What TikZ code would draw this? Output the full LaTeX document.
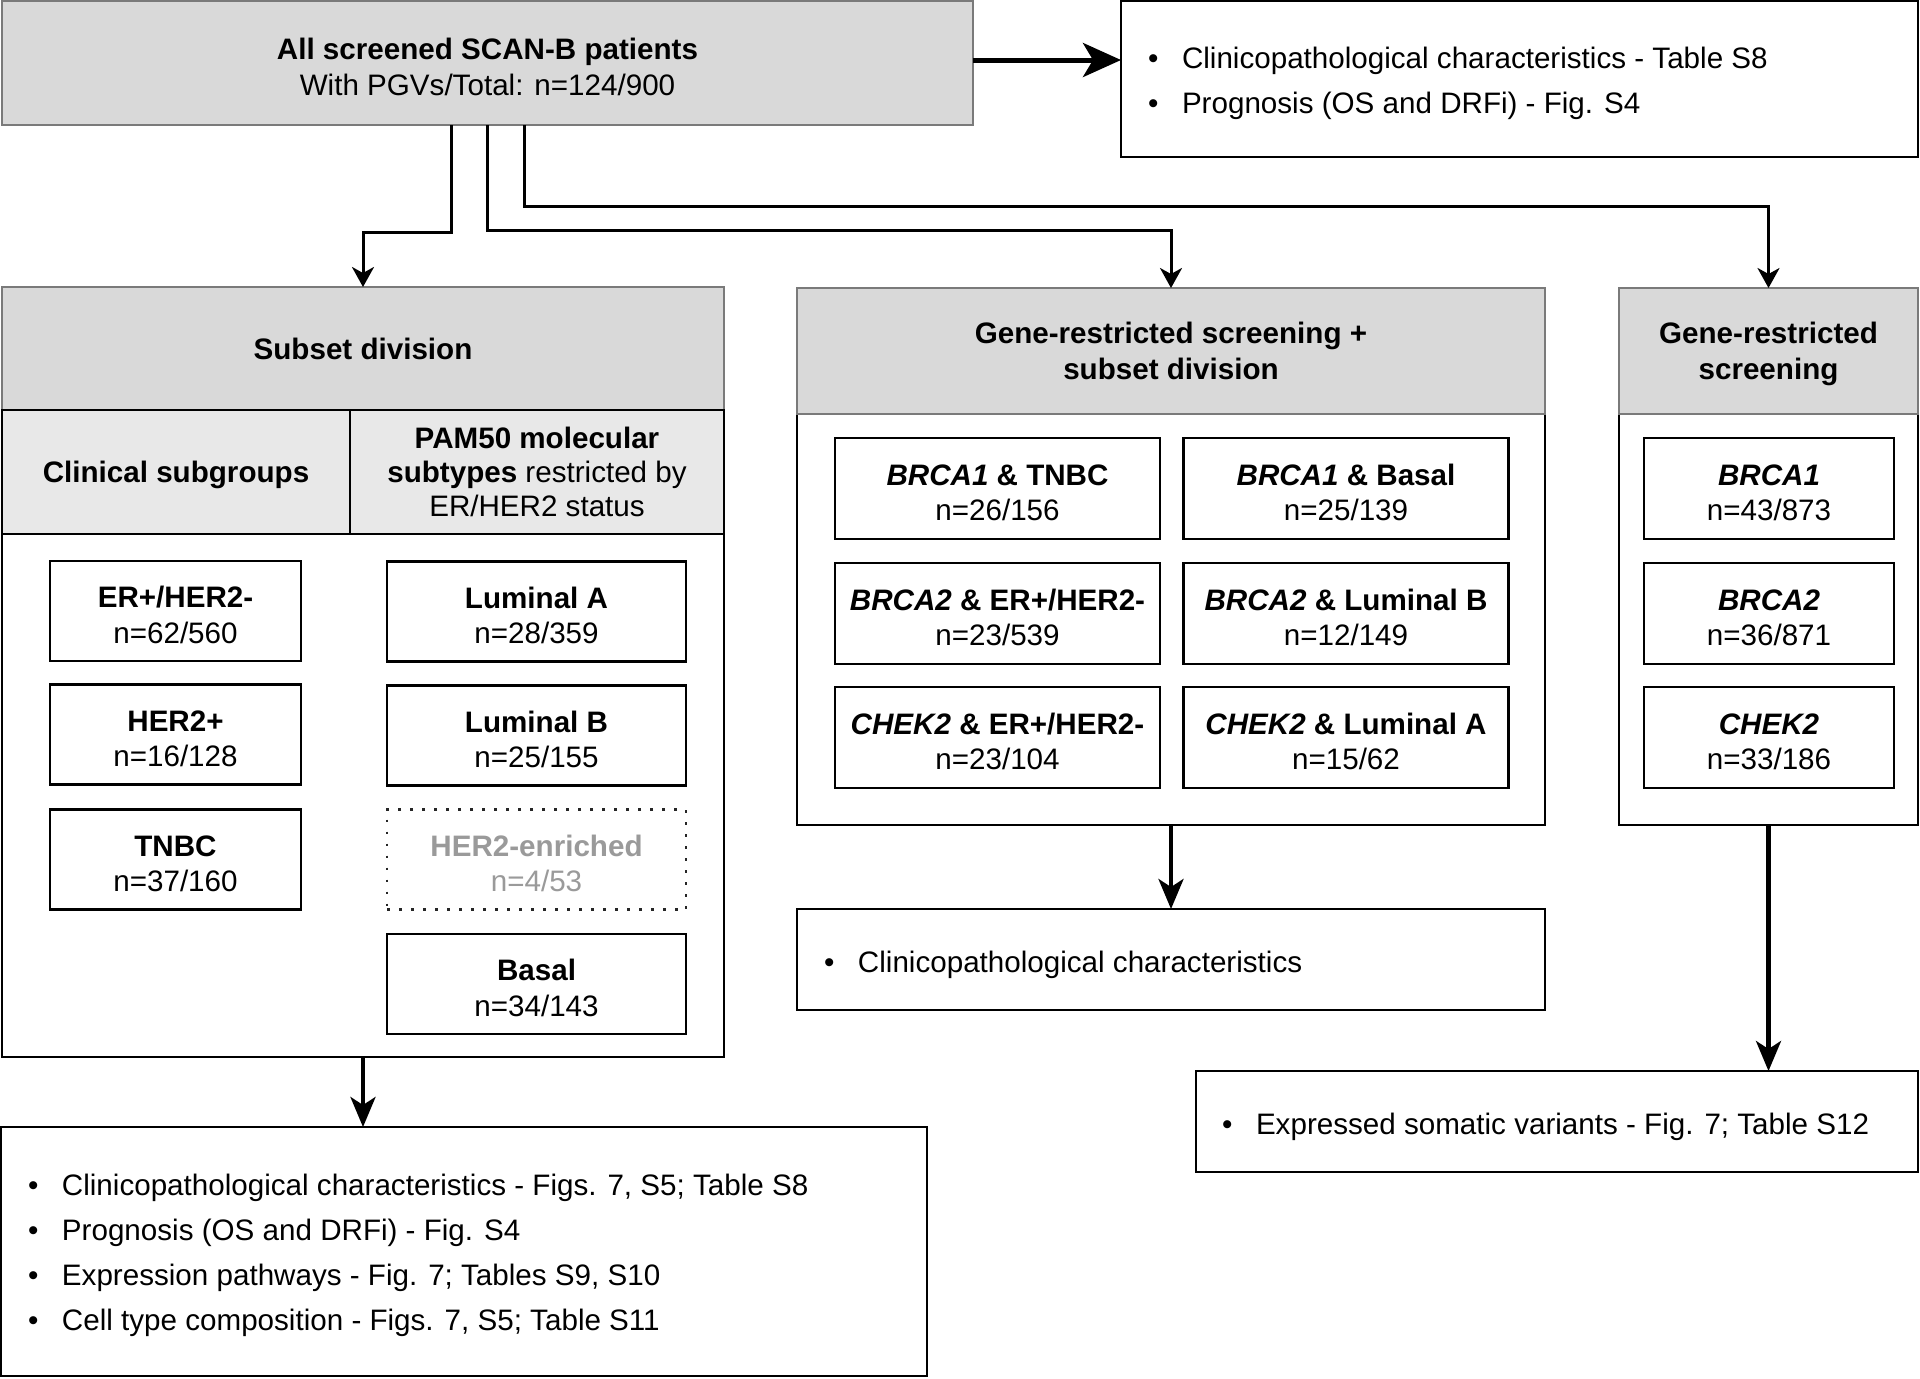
\documentclass[tikz,border=0pt]{standalone}
\usepackage{fontspec}
\setmainfont{Liberation Sans}
\usetikzlibrary{arrows.meta}
\definecolor{hdr}{HTML}{D9D9D9}
\definecolor{hdrlight}{HTML}{E8E8E8}
\definecolor{bord}{HTML}{7A7A7A}
\definecolor{faded}{HTML}{9A9A9A}
\newcommand{\bul}[1]{\makebox[17pt][l]{\textbullet}#1}
\newcommand{\gene}[1]{\textbf{\textit{#1}}}
\newcommand{\st}{\rule{0pt}{14.4pt}}
\begin{document}
\begin{tikzpicture}[x=0.5pt,y=-0.5pt,
  wh/.style 2 args={minimum width=#1*0.5pt,minimum height=#2*0.5pt},
  base/.style={inner sep=0pt,outer sep=0pt,align=center,text depth=0pt,font=\fontsize{14.8}{17.8}\selectfont},
  cell/.style={base,draw=black,line width=1.4pt,fill=white},
  hcell/.style={base,draw=bord,line width=1.4pt,fill=hdr},
  scell/.style={base,draw=black,line width=1.4pt,fill=hdrlight,font=\fontsize{14.8}{17}\selectfont},
  dotcell/.style={base,draw=black!85,line width=1.4pt,dash pattern=on 1.4pt off 4.6pt,fill=white,text=faded},
  listtext/.style={inner sep=0pt,outer sep=0pt,align=left,anchor=west,font=\fontsize{14.8}{22.5}\selectfont},
  thinarrow/.style={line width=1.5pt,-{Stealth[length=10pt,width=11pt,inset=3pt]}},
  thickarrow/.style={line width=2.1pt,-{Stealth[length=15pt,width=12.5pt,inset=4pt]}},
  bigarrow/.style={line width=2.5pt,-{Stealth[length=19pt,width=17pt,inset=5pt]}}
]
\useasboundingbox (0,0) rectangle (1920,1378);

% top
\node[hcell,wh={971}{124}] (top) at (487.5,63) {\st\textbf{All screened SCAN-B patients}\\With PGVs/Total: n=124/900};
\node[cell,wh={797}{156}] (topR) at (1519.5,79) {};
\node[listtext] (topRl) at (1148,83.5) {\bul{Clinicopathological characteristics - Table S8}\\\bul{Prognosis (OS and DRFi) - Fig. S4}};

% subset division
\node[cell,wh={722}{770}] (sub) at (363,672) {};
\node[hcell,wh={722}{123}] (subh) at (363,348.5) {\textbf{Subset division}};
\node[scell,wh={348}{124}] (clinh) at (176,472) {\textbf{Clinical subgroups}};
\node[scell,wh={374}{124}] (pamh) at (537,472) {\textbf{PAM50 molecular}\\\textbf{subtypes} restricted by\\ER/HER2 status};
\node[cell,wh={251}{100}] (er) at (175.5,611) {\st\textbf{ER+/HER2-}\\n=62/560};
\node[cell,wh={251}{100}] (her) at (175.5,734.5) {\st\textbf{HER2+}\\n=16/128};
\node[cell,wh={251}{100}] (tnbc) at (175.5,859.5) {\st\textbf{TNBC}\\n=37/160};
\node[cell,wh={299}{100}] (luma) at (536.5,611.5) {\st\textbf{Luminal A}\\n=28/359};
\node[cell,wh={299}{100}] (lumb) at (536.5,735.5) {\st\textbf{Luminal B}\\n=25/155};
\node[dotcell,wh={299}{100}] (her2e) at (536.5,859.5) {\st\textbf{HER2-enriched}\\n=4/53};
\node[cell,wh={299}{100}] (basal) at (536.5,984) {\st\textbf{Basal}\\n=34/143};

% gene-restricted + subset
\node[cell,wh={748}{537}] (mid) at (1171,556.5) {};
\node[hcell,wh={748}{126}] (midh) at (1171,351) {\textbf{Gene-restricted screening +}\\\textbf{subset division}};
\node[cell,wh={325}{101}] (m11) at (997.5,488.5) {\st\gene{BRCA1} \textbf{\& TNBC}\\n=26/156};
\node[cell,wh={325}{101}] (m12) at (1346,488.5) {\st\gene{BRCA1} \textbf{\& Basal}\\n=25/139};
\node[cell,wh={325}{101}] (m21) at (997.5,613.5) {\st\gene{BRCA2} \textbf{\& ER+/HER2-}\\n=23/539};
\node[cell,wh={325}{101}] (m22) at (1346,613.5) {\st\gene{BRCA2} \textbf{\& Luminal B}\\n=12/149};
\node[cell,wh={325}{101}] (m31) at (997.5,737.5) {\st\gene{CHEK2} \textbf{\& ER+/HER2-}\\n=23/104};
\node[cell,wh={325}{101}] (m32) at (1346,737.5) {\st\gene{CHEK2} \textbf{\& Luminal A}\\n=15/62};

% gene-restricted
\node[cell,wh={299}{537}] (right) at (1768.5,556.5) {};
\node[hcell,wh={299}{126}] (righth) at (1768.5,351) {\textbf{Gene-restricted}\\\textbf{screening}};
\node[cell,wh={250}{101}] (r1) at (1769,488.5) {\st\gene{BRCA1}\\n=43/873};
\node[cell,wh={250}{101}] (r2) at (1769,613.5) {\st\gene{BRCA2}\\n=36/871};
\node[cell,wh={250}{101}] (r3) at (1769,737.5) {\st\gene{CHEK2}\\n=33/186};

% outcome boxes
\node[cell,wh={748}{101}] (clin) at (1171,959.5) {};
\node[listtext] (clinl) at (824,964.5) {\bul{Clinicopathological characteristics}};
\node[cell,wh={722}{101}] (expr) at (1557,1121.5) {};
\node[listtext] (exprl) at (1222,1126.5) {\bul{Expressed somatic variants - Fig. 7; Table S12}};
\node[cell,wh={926}{249}] (bot) at (464,1251.5) {};
\node[listtext] (botl) at (28,1255.5) {\bul{Clinicopathological characteristics - Figs. 7, S5; Table S8}\\\bul{Prognosis (OS and DRFi) - Fig. S4}\\\bul{Expression pathways - Fig. 7; Tables S9, S10}\\\bul{Cell type composition - Figs. 7, S5; Table S11}};

% connectors
\coordinate (j0) at (1000,60);
\coordinate (j1) at (451,232);
\coordinate (j2) at (487,230);
\coordinate (j3) at (524,206);
\draw[bigarrow] (top.east |- j0) -- (topR.west |- j0);
\draw[thinarrow] (top.south -| j1) -- (j1) -| (sub.north);
\draw[thinarrow] (top.south -| j2) -- (j2) -| (mid.north);
\draw[thinarrow] (top.south -| j3) -- (j3) -| (right.north);
\draw[thickarrow] (mid.south) -- (clin.north);
\draw[thickarrow] (right.south) -- (right.south |- expr.north);
\draw[thickarrow] (sub.south) -- (sub.south |- bot.north);
\end{tikzpicture}
\end{document}
